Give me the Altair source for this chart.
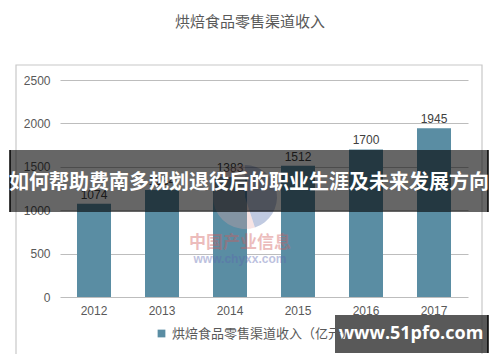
import altair as alt
import pandas as pd

years = ["2012", "2013", "2014", "2015", "2016", "2017"]
revenue = [1074, 1234, 1383, 1512, 1700, 1945]
series_name = "烘焙食品零售渠道收入（亿元）"
chart_title = "烘焙食品零售渠道收入"
banner_text = "如何帮助费南多规划退役后的职业生涯及未来发展方向"
site_text = "www.51pfo.com"
y_ticks = [0, 500, 1000, 1500, 2000, 2500]

df = pd.DataFrame({"year": years, "value": revenue, "series": [series_name] * len(years)})
one = pd.DataFrame({"k": [0]})

FONT = "Noto Sans CJK SC"
NUM_FONT = "Liberation Sans"
BAR = "#5a8da3"

base = alt.Chart(df)
deco = alt.Chart(one)

y_scale = alt.Scale(domain=[0, 2500], nice=False, zero=True)

x_enc = alt.X("year:N", title=None, sort=years,
              scale=alt.Scale(paddingInner=0.5, paddingOuter=0.25),
              axis=alt.Axis(labelAngle=0, ticks=False, domain=False, labelFont=NUM_FONT,
                            labelFontSize=12, labelColor="#595959", labelPadding=8))
y_enc = alt.Y("value:Q", title=None, scale=y_scale,
              axis=alt.Axis(values=y_ticks, format="d", ticks=False, domain=False, labelFont=NUM_FONT,
                            labelFontSize=12, labelColor="#595959", labelPadding=10,
                            gridColor="#bdbdbd", gridWidth=1))

border = deco.mark_rect(fill=None, stroke="#c8c8c8", strokeWidth=1.2).encode(
    x=alt.value(-44), x2=alt.value(422), y=alt.value(-15), y2=alt.value(277))

bars = base.mark_bar().encode(
    x=x_enc, y=y_enc,
    color=alt.Color("series:N", scale=alt.Scale(domain=[series_name], range=[BAR]),
                    legend=alt.Legend(title=None, orient="none", legendX=95, legendY=247,
                                      symbolType="square", symbolSize=60, labelFont=FONT,
                                      labelFontSize=13, labelColor="#595959", labelLimit=0)))

labels = base.mark_text(dy=-9, font=NUM_FONT, fontSize=12, color="#404040").encode(
    x=alt.X("year:N", sort=years), y=alt.Y("value:Q", scale=y_scale), text="value:Q")

title = deco.mark_text(font=FONT, fontSize=15, color="#595959").encode(
    x=alt.value(190), y=alt.value(-58), text=alt.value(chart_title))

wm_df = pd.DataFrame({"part": ["a", "b"], "v": [45, 55]})
logo = alt.Chart(wm_df).mark_arc(outerRadius=32, opacity=0.3).encode(
    theta=alt.Theta("v:Q"),
    color=alt.Color("part:N", scale=alt.Scale(domain=["a", "b"], range=["#2f4f9a", "#e6a6a6"]), legend=None),
    x=alt.value(185), y=alt.value(117))
wm1 = deco.mark_text(font=FONT, fontSize=17, fontWeight="bold", color="#d05a5a", opacity=0.4).encode(
    x=alt.value(180), y=alt.value(163), text=alt.value("中国产业信息"))
wm2 = deco.mark_text(font=NUM_FONT, fontSize=12, fontWeight="bold", color="#5a66b0", opacity=0.4).encode(
    x=alt.value(180), y=alt.value(179), text=alt.value("www.chyxx.com"))

banner = deco.mark_rect(fill="#000000", fillOpacity=0.6).encode(
    x=alt.value(-50), x2=alt.value(428), y=alt.value(70), y2=alt.value(132))
banner_edges = alt.Chart(pd.DataFrame({"xp": [-50, 428]})).mark_rule(color="#000000", strokeWidth=1.5).encode(
    x=alt.X("xp:Q", scale=None), y=alt.value(70), y2=alt.value(132))
banner_t = deco.mark_text(font=FONT, fontSize=20, fontWeight="bold", color="#ffffff").encode(
    x=alt.value(189), y=alt.value(103), text=alt.value(banner_text))

site = deco.mark_rect(fill="#303030", fillOpacity=0.8).encode(
    x=alt.value(275), x2=alt.value(428), y=alt.value(235), y2=alt.value(273))
site_edge = deco.mark_rule(color="#000000", strokeWidth=1.5).encode(
    x=alt.value(428), y=alt.value(235), y2=alt.value(273))
site_t = deco.mark_text(font="Open Sans", fontSize=18, fontWeight="bold", color="#ffffff").encode(
    x=alt.value(351), y=alt.value(254), text=alt.value(site_text))

chart = alt.layer(border, bars, labels, title, logo, wm1, wm2, banner, banner_edges, banner_t,
                  site, site_edge, site_t).resolve_scale(color="independent").properties(
    width=408, height=217,
    autosize=alt.AutoSizeParams(type="none"),
    padding={"left": 52, "top": 72, "right": 24, "bottom": 57},
    background="#ffffff",
).configure_view(stroke=None)

chart.save("out.html", embed_options={"renderer": "svg", "actions": False})
